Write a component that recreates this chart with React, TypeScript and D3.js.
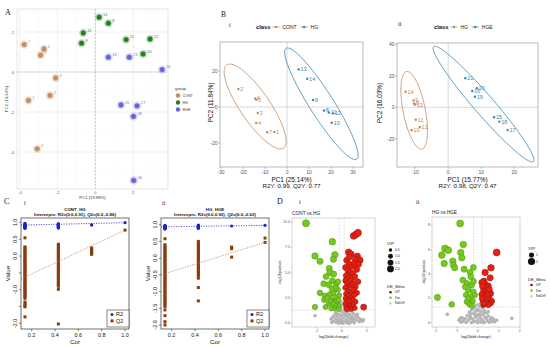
import React from 'react'
import * as d3 from 'd3'

const SANS = "'Liberation Sans', Arial, Helvetica, sans-serif"
const SERIF = "'Liberation Serif', 'Times New Roman', serif"

// ---------- A: PCA scores (group, sample, PC1, PC2)
const pcaGroups = ['CONT', 'HG', 'HGE']
const pcaColors = ['#c48d63', '#24801f', '#6464dc']
const pcaPoints: [string, string, number, number][] = [
  ['CONT', '7', -3.77, 1.37], ['CONT', '6', -2.72, 1.15], ['CONT', '5', -2.9, 0.84], ['CONT', '3', -2.1, -0.3],
  ['CONT', '2', -2.4, -1.17], ['CONT', '1', -3.54, -1.42], ['CONT', '4', -3.08, -3.84],
  ['HG', '14', 0.2, 2.74], ['HG', '8', 0.69, 2.44], ['HG', '13', -0.64, 1.95], ['HG', '9', -0.73, 1.44],
  ['HG', '11', 1.63, 1.62], ['HG', '12', 2.9, 1.65], ['HG', '10', 2.53, 0.9],
  ['HGE', '19', 0.69, 0.74], ['HGE', '21', 1.8, 0.74], ['HGE', '20', 3.54, 0.12], ['HGE', '15', 1.36, -1.65],
  ['HGE', '17', 2.21, -1.69], ['HGE', '18', 2.02, -2.22], ['HGE', '16', 2.03, -5.42],
]
const pcaXTicks = [-4, -2, 0, 2]
const pcaYTicks = [-4, -2, 0, 2]

// ---------- B: PLS-DA scores
const plsColors = ['#c28a5e', '#3a87b2']
const plsIClasses = ['CONT', 'HG']
const plsIPoints: [string, string, number, number][] = [
  ['CONT', '2', -22.1, 10], ['CONT', '6', -14.5, 4.8], ['CONT', '5', -14, 4], ['CONT', '3', -13.3, -3.3],
  ['CONT', '4', -14, -8.9], ['CONT', '7', -9, -14], ['CONT', '1', -5.8, -13.9],
  ['HG', '13', 5.3, 20.9], ['HG', '14', 9.2, 15.7], ['HG', '9', 11.8, 3.9], ['HG', '8', 16.8, -1.9],
  ['HG', '11', 19, -3], ['HG', '12', 20.8, -3.5], ['HG', '10', 20.3, -8.7],
]
// ellipse: centre, half major axis vector, half minor axis vector (data units)
const plsIEllipses: [string, number, number, number, number, number, number][] = [
  ['CONT', -14.5, 0.28, -12.9, 23.1, 5.6, 4.7],
  ['HG', 15.6, 1.8, -16.0, 30.8, 4.6, 3.6],
]
const plsIIClasses = ['HG', 'HGE']
const plsIIPoints: [string, string, number, number][] = [
  ['HG', '14', -12.9, 9.9], ['HG', '9', -10.5, 4.4], ['HG', '8', -10.3, 2.5], ['HG', '13', -10.1, 1.6],
  ['HG', '11', -9.8, -7.9], ['HG', '12', -8.6, -12.5], ['HG', '10', -11.1, -14.6],
  ['HGE', '21', 5.2, 18.4], ['HGE', '20', 8.7, 12.1], ['HGE', '16', 7.3, 10.3], ['HGE', '19', 8.1, 6.7],
  ['HGE', '15', 13.9, -6.3], ['HGE', '18', 15.5, -9.1], ['HGE', '17', 18, -14.4],
]
const plsIIEllipses: [string, number, number, number, number, number, number][] = [
  ['HG', -10.3, -1.9, -2.3, 24.6, 3.3, 1.3],
  ['HGE', 10.7, 2.0, -15.1, 36.5, 2.3, 4.1],
]

// ---------- C: permutation tests (values at each correlation level)
const permCors = [0.143, 0.429, 0.714, 1.0]
const permIR2 = [
  [0.97, 0.95, 0.94, 0.93, 0.92, 0.91, 0.9, 0.89, 0.88, 0.87, 0.86, 0.85, 0.84, 0.82],
  [0.96, 0.94, 0.93, 0.92, 0.91, 0.9, 0.89, 0.88, 0.87, 0.86, 0.85, 0.83],
  [0.93, 0.92],
  [0.99],
]
const permIQ2 = [
  [0.54, 0.27, 0.24, 0.2, 0.15, 0.12, 0.07, 0.03, -0.01, -0.06, -0.09, -0.14, -0.17, -0.22, -0.25, -0.3, -0.33,
    -0.38, -0.41, -0.46, -0.49, -0.54, -0.57, -0.62, -0.65, -0.7, -0.73, -0.78, -0.81, -0.86, -0.89, -0.94,
    -0.97, -1.02, -1.05, -1.1, -1.13, -1.18, -1.21, -1.26, -1.37, -1.42, -1.47, -1.51, -1.81],
  [0.35, 0.31, 0.27, 0.22, 0.18, 0.14, 0.1, 0.05, 0.01, -0.04, -0.08, -0.12, -0.17, -0.21, -0.26, -0.3, -0.34,
    -0.39, -0.43, -0.47, -0.52, -0.56, -0.6, -0.65, -0.69, -0.73, -0.78, -0.82, -0.86, -0.9, -0.99, -2.02],
  [0.24, 0.2, 0.16, 0.12, 0.08, 0.05],
  [0.77],
]
const permIIR2 = [
  [0.98, 0.96, 0.95, 0.94, 0.93, 0.92, 0.91, 0.9, 0.89, 0.88, 0.87],
  [0.99, 0.97, 0.96, 0.95, 0.94, 0.93, 0.92, 0.91, 0.9, 0.89],
  [0.96],
  [0.98],
]
const permIIQ2 = [
  [0.58, 0.4, 0.36, 0.31, 0.27, 0.22, 0.18, 0.13, 0.09, 0.04, 0.0, -0.05, -0.09, -0.14, -0.18, -0.23, -0.27,
    -0.32, -0.36, -0.41, -0.45, -0.5, -0.54, -0.59, -0.63, -0.68, -0.72, -0.77, -0.81, -0.86, -0.9, -0.95,
    -0.99, -1.04, -1.08, -1.13, -1.17, -1.22, -1.26, -1.31, -1.35, -1.4, -1.45, -1.55, -1.72, -1.9, -2.0],
  [0.5, 0.46, 0.41, 0.37, 0.32, 0.28, 0.23, 0.19, 0.14, 0.1, 0.05, 0.01, -0.04, -0.08, -0.13, -0.17, -0.22,
    -0.26, -0.31, -0.35, -0.4, -0.44, -0.49, -0.53, -0.6, -0.88, -1.28],
  [0.33, 0.28, 0.03],
  [0.6, 0.47],
]

// ---------- D: volcano plots [log2FC, -log10 p, VIP]
const volIUp: [number, number, number][] = [
  [0.95, 8.6, 2.0], [1.15, 8.75, 2.0], [1.3, 8.9, 2.1], [0.55, 7.0, 1.8], [0.75, 6.8, 1.7], [1.25, 6.6, 1.7],
  [1.45, 6.2, 1.8], [1.1, 6.3, 1.6], [0.4, 6.2, 1.6], [0.6, 5.8, 1.6], [0.85, 5.6, 1.5], [1.0, 5.9, 1.6],
  [0.3, 5.5, 1.5], [0.5, 5.2, 1.5], [0.7, 5.0, 1.5], [1.2, 5.3, 1.5], [0.9, 4.9, 1.4], [0.35, 4.7, 1.4],
  [0.55, 4.5, 1.4], [0.8, 4.3, 1.4], [1.05, 4.6, 1.4], [0.3, 4.2, 1.3], [0.45, 3.9, 1.3], [0.65, 3.7, 1.3],
  [0.9, 3.9, 1.3], [1.1, 3.6, 1.3], [0.3, 3.5, 1.3], [0.5, 3.2, 1.2], [0.75, 3.1, 1.2], [0.95, 3.3, 1.2],
  [1.2, 3.0, 1.3], [0.35, 2.9, 1.2], [0.55, 2.7, 1.2], [0.8, 2.6, 1.2], [1.0, 2.8, 1.2], [0.3, 2.45, 1.1],
  [0.45, 2.25, 1.1], [0.65, 2.1, 1.1], [0.9, 2.3, 1.1], [1.1, 2.15, 1.1], [0.3, 1.95, 1.1], [0.5, 1.8, 1.0],
  [0.7, 1.7, 1.0], [0.95, 1.85, 1.0], [0.35, 1.55, 1.0], [0.6, 1.45, 1.0], [0.8, 1.4, 1.0], [1.05, 1.5, 1.0],
  [0.4, 1.35, 1.0], [1.75, 1.6, 1.6], [1.3, 4.1, 1.4], [0.6, 6.5, 1.6], [1.35, 5.8, 1.5],
]
const volIDown: [number, number, number][] = [
  [-2.86, 9.84, 2.2], [-0.75, 8.03, 1.9], [-2.14, 6.62, 1.8], [-1.74, 6.1, 1.7], [-0.55, 6.75, 1.8],
  [-0.67, 6.3, 1.7], [-1.0, 5.4, 1.6], [-0.95, 5.0, 1.6], [-0.65, 4.85, 1.6], [-1.25, 4.6, 1.5],
  [-0.75, 4.2, 1.5], [-1.45, 3.9, 1.4], [-1.05, 3.8, 1.5], [-0.45, 3.85, 1.4], [-0.3, 4.1, 1.3],
  [-1.74, 3.0, 1.4], [-1.35, 2.7, 1.3], [-0.95, 2.85, 1.3], [-0.67, 3.0, 1.3], [-1.4, 2.3, 1.2],
  [-1.15, 2.5, 1.2], [-0.75, 2.3, 1.2], [-0.5, 2.55, 1.2], [-0.2, 2.75, 1.1], [-1.05, 1.9, 1.1],
  [-0.35, 1.95, 1.1], [-1.3, 1.6, 1.1], [-2.14, 1.6, 1.3], [-0.6, 1.5, 1.1], [-0.2, 1.7, 1.0],
  [-0.85, 1.45, 1.0], [-0.4, 2.2, 1.0], [-0.9, 2.2, 1.1], [-0.55, 1.8, 1.0], [-0.25, 2.3, 1.0],
  [-0.3, 3.3, 1.1], [-0.5, 3.5, 1.2], [-0.8, 3.4, 1.2], [-0.25, 1.4, 1.0], [-0.7, 1.95, 1.0],
]
const volINone: [number, number][] = [
  [0.1, 1.8], [0.3, 1.6], [-0.1, 1.5], [0.5, 1.45], [0.2, 1.35], [-0.3, 1.3], [0.7, 1.25], [0.0, 1.2], [0.4, 1.1],
  [-0.5, 1.05], [0.9, 1.0], [0.15, 1.0], [-0.2, 0.9], [0.6, 0.9], [1.1, 0.8], [-0.6, 0.8], [0.3, 0.8], [0.0, 0.75],
  [0.8, 0.7], [-0.35, 0.7], [1.3, 0.6], [-0.75, 0.6], [0.5, 0.6], [0.15, 0.55], [-0.15, 0.5], [1.0, 0.5],
  [-0.5, 0.45], [0.7, 0.45], [1.5, 0.4], [-0.85, 0.4], [0.35, 0.35], [0.0, 0.3], [-0.3, 0.3], [1.2, 0.3],
  [0.9, 0.25], [-0.65, 0.2], [0.55, 0.2], [0.2, 0.15], [-0.1, 0.1], [1.4, 0.15], [-0.45, 0.1], [0.75, 0.1],
  [1.0, 0.05], [0.4, 0.05], [-0.25, 0.02], [-0.8, 0.08], [1.65, 0.2], [0.05, 0.0], [0.6, 0.0], [-2.14, 0.75],
  [1.73, 0.35], [0.25, 1.9], [-0.05, 2.1], [0.45, 0.75], [-0.4, 0.95], [0.85, 0.4], [1.25, 0.9],
]
const volIIUp: [number, number, number][] = [
  [0.9, 5.77, 1.9], [0.63, 4.51, 1.7], [0.35, 4.13, 1.6], [0.3, 3.42, 1.5], [0.59, 3.69, 1.5], [0.35, 3.15, 1.4],
  [0.5, 3.03, 1.4], [0.19, 3.31, 1.4], [0.27, 2.68, 1.3], [0.43, 2.54, 1.3], [0.62, 2.41, 1.3], [0.19, 2.33, 1.3],
  [0.35, 2.13, 1.2], [0.55, 2.0, 1.2], [0.67, 1.78, 1.2], [0.24, 1.78, 1.2], [0.43, 1.67, 1.1], [0.62, 1.59, 1.1],
  [0.27, 1.45, 1.1], [0.5, 1.45, 1.1], [0.4, 2.9, 1.3], [0.2, 2.0, 1.2], [0.48, 2.3, 1.2], [0.3, 1.6, 1.1],
  [0.55, 2.75, 1.3], [0.22, 3.0, 1.3],
]
const volIIDown: [number, number, number][] = [
  [-0.84, 8.15, 1.9], [-1.56, 6.1, 1.8], [-1.4, 5.96, 1.8], [-0.69, 6.42, 1.7], [-1.71, 5.55, 1.7],
  [-0.81, 5.77, 1.6], [-0.76, 5.33, 1.6], [-1.19, 5.06, 1.6], [-1.6, 4.87, 1.6], [-1.16, 4.73, 1.5],
  [-1.1, 4.51, 1.5], [-0.65, 4.4, 1.5], [-0.21, 4.54, 1.4], [-0.37, 4.13, 1.4], [-0.71, 3.5, 1.4],
  [-0.33, 3.77, 1.4], [-0.52, 3.23, 1.3], [-0.29, 3.09, 1.3], [-0.45, 2.68, 1.3], [-0.21, 2.54, 1.3],
  [-0.56, 2.27, 1.2], [-0.33, 2.13, 1.2], [-0.52, 1.72, 1.2], [-0.24, 1.78, 1.2], [-0.4, 1.51, 1.1],
  [-1.92, 2.08, 1.5], [-1.24, 1.51, 1.3], [-0.13, 2.27, 1.1], [-0.6, 2.95, 1.3], [-0.28, 1.4, 1.1],
  [-0.45, 2.0, 1.2], [-0.2, 3.4, 1.3],
]
const volIINone: [number, number][] = [
  [-0.05, 1.45], [0.1, 1.35], [-0.15, 1.25], [0.2, 1.2], [0.0, 1.1], [-0.3, 1.05], [0.3, 1.0], [-0.1, 0.95],
  [0.15, 0.9], [-0.4, 0.85], [0.4, 0.8], [-0.2, 0.75], [0.05, 0.7], [0.25, 0.65], [-0.5, 0.6], [0.5, 0.55],
  [-0.35, 0.5], [0.35, 0.45], [-0.1, 0.45], [0.1, 0.4], [-0.6, 0.35], [0.6, 0.3], [-0.25, 0.3], [0.2, 0.25],
  [-0.45, 0.2], [0.45, 0.15], [-0.7, 0.12], [0.7, 0.1], [0.0, 0.2], [-0.15, 0.1], [0.15, 0.05], [-0.8, 0.05],
  [0.8, 0.08], [-0.55, 0.02], [0.55, 0.03], [0.3, 0.0], [-0.3, 0.0], [0.0, 0.0], [-0.65, 0.25], [0.65, 0.4],
  [-0.75, 0.4], [0.75, 0.3], [-0.05, 0.55], [0.3, 0.85], [-0.25, 1.15], [0.1, 1.55], [-0.4, 0.35], [0.4, 0.35],
  [-0.2, 0.15], [0.25, 0.12], [-0.9, 0.2], [0.9, 0.2], [-1.45, 0.69], [1.62, 0.36], [-0.84, 0.36], [0.05, 1.0],
  [-0.12, 0.65], [0.12, 0.62], [-0.35, 0.75], [0.5, 0.9],
]
const volDegLabels = ['UP', 'Dw', 'NoDiff']

const COL_UP = '#ec1c12', COL_UP_EDGE = '#7a1e0e'
const COL_DW = '#72cc1c', COL_DW_EDGE = '#56891d'
const COL_NO = '#b4b4b4'

type TProps = {
  x: number; y: number; children: React.ReactNode; size?: number; anchor?: string; fill?: string
  family?: string; weight?: string | number; rotate?: number
}
function T({ x, y, children, size = 5, anchor = 'start', fill = '#222', family = SANS, weight = 'normal', rotate = 0 }: TProps) {
  return (
    <text x={x} y={y} fontSize={size} textAnchor={anchor} fill={fill} fontFamily={family} fontWeight={weight}
      dominantBaseline="central" transform={rotate ? `rotate(${rotate},${x},${y})` : undefined}>
      {children}
    </text>
  )
}

function PanelA() {
  const L = 17, R = 168, Tp = 9, B = 189
  const x = d3.scaleLinear().domain([-4.15, 3.85]).range([L, R])
  const y = d3.scaleLinear().domain([3.15, -5.85]).range([Tp, B])
  const color = d3.scaleOrdinal<string, string>().domain(pcaGroups).range(pcaColors)
  const minX = [-3, -1, 1, 3], minY = [-5, -3, -1, 1, 3]
  return (
    <g>
      <rect x={L} y={Tp} width={R - L} height={B - Tp} fill="#fff" stroke="#d4d4d4" strokeWidth={0.6} />
      {minX.map((v) => <line key={'nx' + v} x1={x(v)} x2={x(v)} y1={Tp} y2={B} stroke="#f3f3f3" strokeWidth={0.4} />)}
      {minY.map((v) => <line key={'ny' + v} x1={L} x2={R} y1={y(v)} y2={y(v)} stroke="#f3f3f3" strokeWidth={0.4} />)}
      {pcaXTicks.map((v) => <line key={'gx' + v} x1={x(v)} x2={x(v)} y1={Tp} y2={B} stroke="#e8e8e8" strokeWidth={0.6} />)}
      {pcaYTicks.map((v) => <line key={'gy' + v} x1={L} x2={R} y1={y(v)} y2={y(v)} stroke="#e8e8e8" strokeWidth={0.6} />)}
      <line x1={x(0)} x2={x(0)} y1={Tp} y2={B} stroke="#9a9a9a" strokeWidth={0.5} strokeDasharray="2,1.5" />
      <line x1={L} x2={R} y1={y(0)} y2={y(0)} stroke="#9a9a9a" strokeWidth={0.5} strokeDasharray="2,1.5" />
      {pcaPoints.map(([g, id, px, py]) => (
        <g key={id}>
          <circle cx={x(px)} cy={y(py)} r={4.4} fill={color(g)} opacity={0.2} />
          <circle cx={x(px)} cy={y(py)} r={2.9} fill={color(g)} stroke="#fff" strokeWidth={0.4} />
          <T x={x(px) + 4} y={y(py) - 2.5} size={3.8} fill={color(g)}>{id}</T>
        </g>
      ))}
      {pcaXTicks.map((v) => <T key={'tx' + v} x={x(v)} y={B + 3.5} size={4} anchor="middle" fill="#555">{v}</T>)}
      {pcaYTicks.map((v) => <T key={'ty' + v} x={L - 3} y={y(v)} size={4} anchor="end" fill="#555">{v}</T>)}
      <T x={(L + R) / 2} y={B + 8.5} size={4.2} anchor="middle" fill="#333">PC1 (19.98%)</T>
      <T x={6} y={(Tp + B) / 2} size={4.2} anchor="middle" fill="#333" rotate={-90}>PC2 (13.24%)</T>
      <T x={175} y={88.5} size={4.3} fill="#333">group</T>
      {pcaGroups.map((g, i) => (
        <g key={g}>
          <circle cx={178} cy={95.5 + i * 7} r={2.2} fill={color(g)} />
          <T x={182.5} y={95.5 + i * 7} size={3.6} fill="#333">{g}</T>
        </g>
      ))}
    </g>
  )
}

type PlsProps = {
  L: number; R: number; Tp: number; B: number; xDomain: [number, number]; yDomain: [number, number]
  xTicks: number[]; yTicks: number[]; classes: string[]; points: [string, string, number, number][]
  ellipses: [string, number, number, number, number, number, number][]
  yTitle: string; xTitle: string; stats: string; legendX: number; yTitleX: number
}
function PlsPanel(p: PlsProps) {
  const x = d3.scaleLinear().domain(p.xDomain).range([p.L, p.R])
  const y = d3.scaleLinear().domain(p.yDomain).range([p.B, p.Tp])
  const color = d3.scaleOrdinal<string, string>().domain(p.classes).range(plsColors)
  const angles = d3.range(0, 2 * Math.PI + 0.01, Math.PI / 60)
  const line = d3.line<number>()
  const cx = (p.L + p.R) / 2
  let lx = p.legendX + 17
  const legendItems = p.classes.map((c) => {
    const item = { c, mx: lx + 3, tx: lx + 9.5 }
    lx = item.tx + c.length * 3.4 + 5
    return item
  })
  return (
    <g>
      <line x1={x(0)} x2={x(0)} y1={p.Tp} y2={p.B} stroke="#cfcfcf" strokeWidth={0.8} />
      <line x1={p.L} x2={p.R} y1={y(0)} y2={y(0)} stroke="#cfcfcf" strokeWidth={0.8} />
      {p.ellipses.map(([c, ex, ey, ax, ay, bx, by]) => (
        <path key={'e' + c} fill="none" stroke={color(c)} strokeWidth={0.8}
          d={line(angles.map((t) => [
            x(ex + Math.cos(t) * ax + Math.sin(t) * bx),
            y(ey + Math.cos(t) * ay + Math.sin(t) * by),
          ])) || ''} />
      ))}
      {p.points.map(([c, id, px, py]) => (
        <g key={id}>
          <circle cx={x(px)} cy={y(py)} r={1.2} fill={color(c)} />
          <T x={x(px) + 1.8} y={y(py)} size={5.6} fill={color(c)}>{id}</T>
        </g>
      ))}
      <rect x={p.L} y={p.Tp} width={p.R - p.L} height={p.B - p.Tp} fill="none" stroke="#a9a9a9" strokeWidth={0.8} />
      {p.xTicks.map((v) => (
        <g key={'x' + v}>
          <line x1={x(v)} x2={x(v)} y1={p.B} y2={p.B + 1.8} stroke="#777" strokeWidth={0.5} />
          <T x={x(v)} y={p.B + 5} size={5} anchor="middle" fill="#555">{v}</T>
        </g>
      ))}
      {p.yTicks.map((v) => (
        <g key={'y' + v}>
          <line x1={p.L - 1.8} x2={p.L} y1={y(v)} y2={y(v)} stroke="#777" strokeWidth={0.5} />
          <T x={p.L - 2.5} y={y(v)} size={5} anchor="end" fill="#555">{v}</T>
        </g>
      ))}
      <T x={cx} y={p.B + 12} size={6.4} anchor="middle" fill="#111">{p.xTitle}</T>
      <T x={cx} y={p.B + 18.2} size={6.2} anchor="middle" fill="#111">{p.stats}</T>
      <T x={p.yTitleX} y={(p.Tp + p.B) / 2 - 2} size={6.4} anchor="middle" fill="#111" rotate={-90}>{p.yTitle}</T>
      <T x={p.legendX} y={27} size={5.8} fill="#111" weight="bold">class</T>
      {legendItems.map((it) => (
        <g key={'l' + it.c}>
          <line x1={it.mx - 3.5} x2={it.mx + 3.5} y1={27} y2={27} stroke={color(it.c)} strokeWidth={0.7} />
          <circle cx={it.mx} cy={27} r={1.2} fill={color(it.c)} />
          <T x={it.tx} y={27} size={5} fill="#222">{it.c}</T>
        </g>
      ))}
    </g>
  )
}

type PermProps = {
  L: number; R: number; Tp: number; B: number; yDomain: [number, number]; yLabels: number[]
  r2: number[][]; q2: number[][]; r2Int: number; q2Int: number; title: string; intercepts: string
}
function PermPanel(p: PermProps) {
  const x = d3.scaleLinear().domain([0.109, 1.034]).range([p.L, p.R])
  const y = d3.scaleLinear().domain(p.yDomain).range([p.B, p.Tp])
  const cx = (p.L + p.R) / 2
  const yTicks = [-2, -1.5, -1, -0.5, 0, 0.5, 1]
  const xTicks = [0.2, 0.4, 0.6, 0.8, 1.0]
  const r2Last = p.r2[p.r2.length - 1][0]
  const q2Last = p.q2[p.q2.length - 1][p.q2[p.q2.length - 1].length - 1]
  const x0 = x.domain()[0]
  const clipId = 'clip' + p.L
  return (
    <g>
      <defs>
        <clipPath id={clipId}><rect x={p.L} y={p.Tp} width={p.R - p.L} height={p.B - p.Tp} /></clipPath>
      </defs>
      <T x={cx} y={p.Tp - 8.5} size={4.4} anchor="middle" weight="bold" fill="#111">{p.title}</T>
      <T x={cx} y={p.Tp - 3.6} size={4.4} anchor="middle" weight="bold" fill="#111">{p.intercepts}</T>
      <g clipPath={`url(#${clipId})`}>
        {p.q2.map((vals, i) => vals.map((v, j) => (
          <rect key={`q${i}-${j}`} x={x(permCors[i]) - 1.5} y={y(v) - 1.5} width={3} height={3} fill="#8a3c10" />
        )))}
        {p.r2.map((vals, i) => vals.map((v, j) => (
          <circle key={`r${i}-${j}`} cx={x(permCors[i])} cy={y(v)} r={1.6} fill="#1f22d0" />
        )))}
        <line x1={x(x0)} x2={x(1)} y1={y(p.r2Int + (r2Last - p.r2Int) * x0)} y2={y(r2Last)}
          stroke="#2a2ee0" strokeWidth={0.8} strokeDasharray="1.2,1.3" />
        <line x1={x(x0)} x2={x(1)} y1={y(p.q2Int + (q2Last - p.q2Int) * x0)} y2={y(q2Last)}
          stroke="#c47a52" strokeWidth={0.8} strokeDasharray="1.2,1.3" />
      </g>
      <rect x={p.L} y={p.Tp} width={p.R - p.L} height={p.B - p.Tp} fill="none" stroke="#111" strokeWidth={0.6} />
      {xTicks.map((v) => (
        <g key={'x' + v}>
          <line x1={x(v)} x2={x(v)} y1={p.B} y2={p.B + 2.2} stroke="#111" strokeWidth={0.5} />
          <T x={x(v)} y={p.B + 6.3} size={5.4} anchor="middle" fill="#111">{v.toFixed(1)}</T>
        </g>
      ))}
      {yTicks.map((v) => (
        <g key={'y' + v}>
          <line x1={p.L - 2.2} x2={p.L} y1={y(v)} y2={y(v)} stroke="#111" strokeWidth={0.5} />
          {p.yLabels.includes(v) && (
            <T x={p.L - 6} y={y(v)} size={5.4} anchor="middle" fill="#111" rotate={-90}>{v.toFixed(1)}</T>
          )}
        </g>
      ))}
      <T x={cx} y={p.B + 12.8} size={6.2} anchor="middle" fill="#111">Cor</T>
      <T x={p.L - 14} y={(p.Tp + p.B) / 2} size={6.2} anchor="middle" fill="#111" rotate={-90}>Value</T>
      <rect x={p.R - 22} y={p.B - 19} width={22} height={17} fill="#fff" stroke="#111" strokeWidth={0.5} />
      <circle cx={p.R - 17} cy={p.B - 14.6} r={1.5} fill="#1f22d0" />
      <T x={p.R - 13} y={p.B - 14.6} size={5.4} fill="#111">R2</T>
      <rect x={p.R - 18.5} y={p.B - 9.6} width={3} height={3} fill="#8a3c10" />
      <T x={p.R - 13} y={p.B - 8.1} size={5.4} fill="#111">Q2</T>
    </g>
  )
}

type VolProps = {
  L: number; R: number; Tp: number; B: number; xDomain: [number, number]; yDomain: [number, number]
  xTicks: number[]; yTicks: number[]; yFmt: (v: number) => string; title: string
  up: [number, number, number][]; down: [number, number, number][]; none: [number, number][]
  vipMax: number; vipLegend: number[]; legX: number; legY: number; vipStep: number; yTitleX: number
}
function VolcanoPanel(p: VolProps) {
  const x = d3.scaleLinear().domain(p.xDomain).range([p.L, p.R])
  const y = d3.scaleLinear().domain(p.yDomain).range([p.B, p.Tp])
  const r = d3.scaleSqrt().domain([0, p.vipMax]).range([0, 3.6])
  const fc = 0.2, pCut = 1.3
  const cx = (p.L + p.R) / 2
  const degFill = [COL_UP_EDGE, COL_DW, COL_NO]
  const degY0 = p.legY + 8 + p.vipLegend.length * p.vipStep + 10
  return (
    <g>
      <rect x={p.L} y={p.Tp} width={p.R - p.L} height={p.B - p.Tp} fill="#fff" />
      {p.none.map(([a, b], i) => <circle key={'n' + i} cx={x(a)} cy={y(b)} r={1.8} fill={COL_NO} />)}
      <line x1={x(-fc)} x2={x(-fc)} y1={p.Tp} y2={p.B} stroke="#c8c8c8" strokeWidth={0.6} strokeDasharray="1.8,1.4" />
      <line x1={x(fc)} x2={x(fc)} y1={p.Tp} y2={p.B} stroke="#c8c8c8" strokeWidth={0.6} strokeDasharray="1.8,1.4" />
      <line x1={p.L} x2={p.R} y1={y(pCut)} y2={y(pCut)} stroke="#c8c8c8" strokeWidth={0.6} strokeDasharray="1.8,1.4" />
      {p.down.map(([a, b, v], i) => (
        <circle key={'d' + i} cx={x(a)} cy={y(b)} r={r(v)} fill={COL_DW} stroke={COL_DW_EDGE} strokeWidth={0.5} />
      ))}
      {p.up.map(([a, b, v], i) => (
        <circle key={'u' + i} cx={x(a)} cy={y(b)} r={r(v)} fill={COL_UP} stroke={COL_UP_EDGE} strokeWidth={0.5} />
      ))}
      <rect x={p.L} y={p.Tp} width={p.R - p.L} height={p.B - p.Tp} fill="none" stroke="#b8b8b8" strokeWidth={0.6} />
      {p.xTicks.map((v) => (
        <g key={'x' + v}>
          <line x1={x(v)} x2={x(v)} y1={p.B} y2={p.B + 1.2} stroke="#777" strokeWidth={0.4} />
          <T x={x(v)} y={p.B + 3.8} size={3.6} anchor="middle" fill="#555">{v}</T>
        </g>
      ))}
      {p.yTicks.map((v) => (
        <g key={'y' + v}>
          <line x1={p.L - 1.2} x2={p.L} y1={y(v)} y2={y(v)} stroke="#777" strokeWidth={0.4} />
          <T x={p.L - 2} y={y(v)} size={3.6} anchor="end" fill="#555">{p.yFmt(v)}</T>
        </g>
      ))}
      <T x={cx} y={p.B + 9.5} size={3.8} anchor="middle" fill="#222">log2(fold change)</T>
      <T x={p.yTitleX} y={(p.Tp + p.B) / 2} size={3.8} anchor="middle" fill="#222" rotate={-90}>-log10(pvalue)</T>
      <T x={p.L} y={p.Tp - 5} size={4.8} fill="#222">{p.title}</T>
      <T x={p.legX - 2} y={p.legY} size={4.4} fill="#222">VIP</T>
      {p.vipLegend.map((v, i) => (
        <g key={'v' + v}>
          <circle cx={p.legX + 1.5} cy={p.legY + 7 + i * p.vipStep} r={r(v)} fill="#111" />
          <T x={p.legX + 6} y={p.legY + 7 + i * p.vipStep} size={3.4} fill="#222">{v.toFixed(v < 1 || p.vipMax > 2.1 ? 1 : 0)}</T>
        </g>
      ))}
      <T x={p.legX - 2} y={degY0} size={4.2} fill="#222">DE_Meta</T>
      {volDegLabels.map((lab, i) => (
        <g key={lab}>
          <circle cx={p.legX + 1.5} cy={degY0 + 6 + i * 5.6} r={i === 2 ? 1 : 1.3} fill={degFill[i]} />
          <T x={p.legX + 6} y={degY0 + 6 + i * 5.6} size={3.4} fill="#222">{lab}</T>
        </g>
      ))}
    </g>
  )
}

export default function App() {
  return (
    <div style={{ position: 'absolute', left: 0, top: 0, width: 550, height: 347, background: '#fff' }}>
      <svg width={550} height={347} viewBox="0 0 550 347" style={{ display: 'block' }}>
        <rect width={550} height={347} fill="#fff" />
        <PanelA />
        <PlsPanel L={220} R={363} Tp={42} B={167} xDomain={[-30.45, 34.5]} yDomain={[-33.3, 36.1]}
          xTicks={[-30, -20, -10, 0, 10, 20, 30]} yTicks={[-20, 0, 20]} classes={plsIClasses}
          points={plsIPoints} ellipses={plsIEllipses} yTitle="PC2 (11.84%)" xTitle="PC1 (25.14%)"
          stats="R2Y: 0.99, Q2Y: 0.77" legendX={256} yTitleX={210} />
        <PlsPanel L={397} R={538} Tp={43} B={167} xDomain={[-15.5, 27.2]} yDomain={[-37.9, 40.8]}
          xTicks={[-10, 0, 10, 20]} yTicks={[-20, 0, 20, 40]} classes={plsIIClasses}
          points={plsIIPoints} ellipses={plsIIEllipses} yTitle="PC2 (16.03%)" xTitle="PC1 (15.77%)"
          stats="R2Y: 0.98, Q2Y: 0.47" legendX={434} yTitleX={379} />
        <PermPanel L={21} R={129} Tp={218} B={329} yDomain={[-2.17, 1.13]} yLabels={[1, 0.5, 0, -1, -2]}
          r2={permIR2} q2={permIQ2} r2Int={0.91} q2Int={-0.86} title="CONT_HG"
          intercepts="Intercepts: R2=(0.0,0.91), Q2=(0.0,-0.86)" />
        <PermPanel L={161} R={269} Tp={218} B={329} yDomain={[-2.12, 1.2]} yLabels={[1, 0.5, 0, -0.5, -1, -1.5, -2]}
          r2={permIIR2} q2={permIIQ2} r2Int={0.93} q2Int={-0.62} title="HG_HGE"
          intercepts="Intercepts: R2=(0.0,0.93), Q2=(0.0,-0.62)" />
        <VolcanoPanel L={292} R={375} Tp={218} B={327} xDomain={[-3.98, 2.66]} yDomain={[-0.36, 10.36]}
          xTicks={[-2, 0, 2]} yTicks={[0, 2.5, 5, 7.5, 10]} yFmt={(v) => v.toFixed(1)} title="CONT vs.HG"
          up={volIUp} down={volIDown} none={volINone} vipMax={2.2} vipLegend={[0.5, 1, 1.5, 2]}
          legX={389} legY={243} vipStep={6.3} yTitleX={280} />
        <VolcanoPanel L={432} R={520} Tp={217} B={327} xDomain={[-2.18, 2.01]} yDomain={[-0.35, 8.68]}
          xTicks={[-2, -1, 0, 1, 2]} yTicks={[0, 2, 4, 6, 8]} yFmt={(v) => String(v)} title="HG vs.HGE"
          up={volIIUp} down={volIIDown} none={volIINone} vipMax={2.0} vipLegend={[1, 2]}
          legX={530} legY={248} vipStep={6.5} yTitleX={424} />
        <T x={5} y={12} size={8} family={SERIF} fill="#111">A</T>
        <T x={221} y={14} size={7.5} family={SERIF} fill="#111">B</T>
        <T x={229} y={25} size={6} family={SERIF} fill="#111">i</T>
        <T x={398} y={24} size={6} family={SERIF} fill="#111">ii</T>
        <T x={4} y={201} size={8} family={SERIF} fill="#111">C</T>
        <T x={24} y={203} size={6} family={SERIF} fill="#111">i</T>
        <T x={162} y={203} size={6} family={SERIF} fill="#111">ii</T>
        <T x={277} y={201} size={8} family={SERIF} fill="#111">D</T>
        <T x={299} y={202} size={6} family={SERIF} fill="#111">i</T>
        <T x={416} y={202} size={6} family={SERIF} fill="#111">ii</T>
      </svg>
    </div>
  )
}
